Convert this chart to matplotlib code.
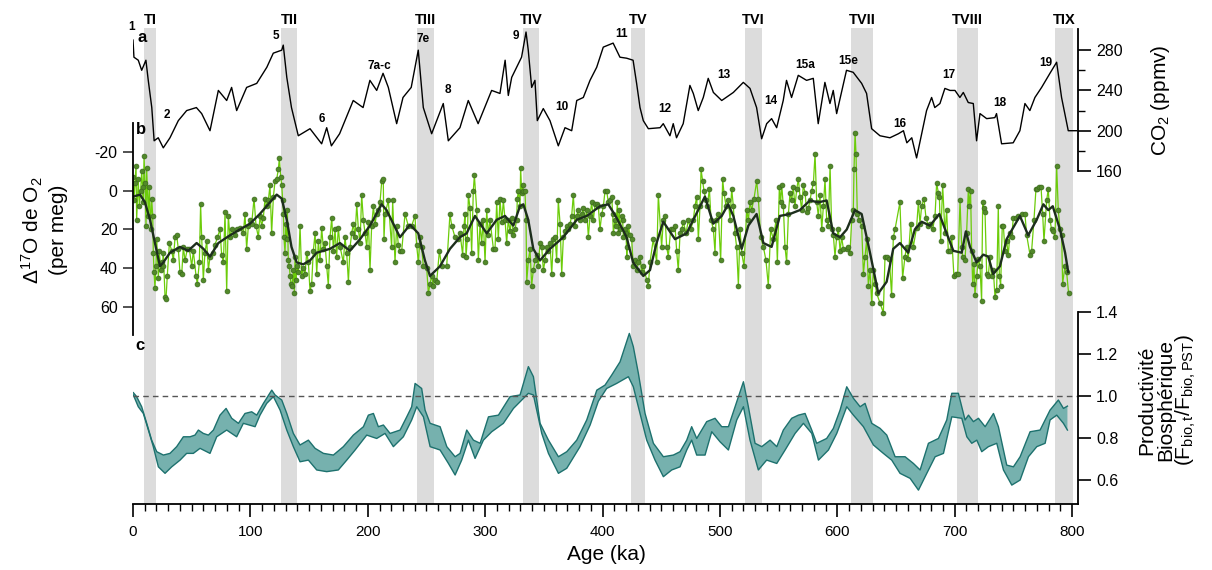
import numpy as np
import matplotlib
matplotlib.use('Agg')
import matplotlib.pyplot as plt

plt.rcParams['font.family'] = ['Liberation Sans', 'DejaVu Sans']
plt.rcParams['mathtext.fontset'] = 'custom'
plt.rcParams['mathtext.rm'] = 'Liberation Sans'
plt.rcParams['mathtext.it'] = 'Liberation Sans:italic'
plt.rcParams['mathtext.bf'] = 'Liberation Sans:bold'
plt.rcParams['axes.unicode_minus'] = False

# ── Terminaisons glaciaires (bandes grises) ──────────────────────────────────
TERM_LABELS = ['TI', 'TII', 'TIII', 'TIV', 'TV', 'TVI', 'TVII', 'TVIII', 'TIX']
TERM_START = [9, 126, 242, 332, 424, 521, 612, 702, 785]
TERM_END = [20, 140, 256, 346, 436, 536, 630, 720, 801]

# ── a : CO2 (ppmv) ───────────────────────────────────────────────────────────
co2_age = [0, 0.8, 4.5, 7.4, 11, 13, 16, 18, 21.5, 25.8,
           31.5, 38.6, 45.7, 54, 58.5, 65.6, 72.7, 79.8, 84, 88.3,
           96.8, 105.4, 114, 119.5, 126.7, 128, 131, 135, 140.8, 150.8,
           160.7, 165, 169, 176, 187.6, 196, 201.8, 207.6, 213, 217.5,
           224.6, 230, 237, 243, 247.3, 254.4, 264.3, 268.6, 278.5, 285.6,
           294, 305.5, 312.6, 317, 319.7, 322.6, 331, 334.8, 336.7, 339.6,
           342.4, 344.4, 349.5, 355.2, 362.3, 368, 373.7, 378, 383.6, 389.3,
           395, 400.6, 409, 414.8, 420.5, 426, 429, 431.9, 434.7, 439,
           449, 451.7, 457.4, 460.2, 463, 468.7, 474.4, 477.3, 481.5, 485.8,
           490, 494.4, 501.5, 511.4, 519.9, 525.6, 531.2, 535.5, 539.8, 544,
           548.3, 553.9, 556.7, 561, 566.7, 573.8, 579.5, 583.7, 589.4, 593.7,
           596.5, 599.4, 607.8, 613.5, 620.7, 624.9, 629.2, 636.3, 644.8, 652,
           656.3, 659.2, 663.4, 667.5, 671.8, 676, 680.3, 683, 687.4, 691.6,
           696, 700.2, 704.4, 707.3, 711.5, 715.8, 718.6, 721.5, 727.2, 734.2,
           735.6, 739.9, 749.8, 755.5, 759.8, 764, 768.3, 774, 781.1, 786.8,
           791, 796.7, 803.8]
co2_ppm = [290, 273, 270, 260, 270, 250, 223, 190, 193, 183,
           193, 210, 220, 223, 217, 200, 240, 230, 243, 220,
           243, 247, 263, 277, 280, 285, 253, 223, 195, 202,
           187, 203, 185, 197, 230, 223, 250, 240, 257, 243,
           207, 233, 243, 280, 223, 197, 227, 190, 203, 230,
           207, 240, 237, 270, 235, 253, 273, 298, 280, 243,
           250, 210, 222, 210, 185, 203, 200, 230, 233, 250,
           263, 283, 287, 273, 272, 270, 247, 223, 210, 202,
           203, 207, 195, 207, 193, 207, 245, 237, 220, 233,
           252, 238, 230, 238, 248, 242, 223, 192, 207, 212,
           203, 230, 250, 233, 255, 250, 252, 207, 248, 227,
           240, 217, 260, 258, 247, 237, 202, 195, 193, 197,
           200, 188, 193, 173, 197, 220, 233, 223, 227, 242,
           240, 240, 233, 238, 228, 227, 190, 217, 212, 213,
           217, 187, 188, 200, 227, 220, 233, 243, 257, 268,
           233, 200, 200]

# stades isotopiques marins (étiquettes sur la courbe CO2)
mis_labels = ['1', '2', '5', '6', '7a-c', '7e', '8', '9', '10', '11', '12',
              '13', '14', '15a', '15e', '16', '17', '18', '19']
mis_age = [-1, 29, 122, 161, 210, 247, 268, 326, 365, 416, 453,
           503, 543, 573, 609, 653, 695, 738, 778]
mis_co2 = [303, 216, 294, 212, 264, 291, 240, 294, 224, 296, 222,
           255, 230, 265, 269, 207, 255, 228, 267]

# ── b : Δ17O de O2 (per meg) ─────────────────────────────────────────────────
d17_age = [0.2, 0.8, 1.7, 2.6, 3.1, 4.5, 5.4, 6.5, 7.4, 8.2, 8.8, 9.4, 10.2, 11.1,
           11.6, 13.1, 13.9, 15.0, 15.9, 16.8, 17.3, 17.9, 18.7, 19.6, 20.2, 21.6,
           22.4, 23.6, 24.4, 25.3, 25.8, 27.3, 28.1, 29.2, 31.0, 33.0, 34.4, 35.8,
           37.2, 38.6, 40.0, 41.5, 42.9, 44.3, 46.3, 48.0, 50.0, 51.4, 53.7, 54.8,
           56.5, 57.6, 58.5, 59.9, 61.3, 62.8, 64.2, 65.6, 67.9, 69.9, 71.9, 74.1,
           75.5, 77.0, 78.4, 79.8, 81.2, 82.6, 84.1, 86.9, 88.3, 91.2, 94.0, 95.4,
           96.8, 98.3, 99.7, 101.1, 103.1, 104.8, 106.8, 108.2, 109.6, 111.0, 112.5,
           113.9, 115.3, 116.7, 118.1, 119.6, 121.0, 122.4, 123.8, 124.7, 125.8,
           126.7, 127.5, 128.1, 128.6, 129.5, 130.3, 130.9, 131.5, 132.3, 133.2,
           133.8, 134.6, 135.5, 136.6, 137.5, 138.0, 138.9, 139.4, 140.9, 142.3,
           143.7, 145.1, 146.5, 148.0, 149.4, 150.8, 152.2, 153.6, 155.1, 156.5,
           157.9, 159.3, 160.7, 162.2, 163.6, 165.0, 166.4, 167.8, 169.3, 170.7,
           172.1, 173.5, 174.9, 176.4, 179.2, 180.6, 182.0, 183.5, 184.9, 186.3,
           187.7, 189.1, 190.6, 192.0, 193.4, 194.8, 196.2, 197.7, 199.1, 200.5,
           201.9, 203.3, 204.8, 206.2, 207.6, 209.0, 210.4, 211.9,
           213.2, 213.8, 214.7, 217.5, 220.3, 221.2, 223.2, 224.6, 226.0, 227.4,
           228.9, 231.7, 234.5, 237.4, 240.2, 241.6, 243.1, 244.5, 245.9, 247.3,
           250.2, 251.6, 253.0, 254.4, 255.8, 257.3, 258.7, 261.0, 262.9, 267.2,
           270.0, 271.5, 274.3, 277.1, 278.6, 280.8, 282.0, 282.8, 283.7, 284.8,
           285.7, 287.1, 288.5, 289.9, 290.8, 292.8, 294.2, 295.6, 297.0, 298.4,
           299.9, 301.3, 302.7, 304.1, 307.0, 308.4, 309.8, 311.2, 312.6, 314.1,
           315.5, 316.9, 318.3, 319.7, 321.2, 322.6, 324.0, 325.4, 326.8, 327.4,
           328.3, 329.7, 330.2, 331.1, 332.0, 332.5, 333.9, 334.8, 335.4, 336.8,
           338.2, 339.6, 341.0, 342.5, 343.9, 345.3, 346.7, 348.1, 349.6, 351.0,
           352.4, 353.8, 355.2, 356.7, 358.1, 359.5, 360.9, 362.3, 363.8, 365.2,
           366.6, 368.0, 369.4, 370.9, 372.3, 373.7, 375.1, 376.5, 378.0, 379.4,
           380.8, 382.2, 383.6, 385.1, 386.5, 387.9, 389.3, 390.7, 392.2, 393.6,
           395.0, 396.4, 397.8, 399.3, 400.7, 402.1, 403.5, 404.9, 406.4, 407.8,
           408.6, 409.2, 410.6, 411.5, 412.6, 413.5, 414.3, 414.9, 416.3, 417.1,
           417.7, 419.1, 420.0, 420.6, 421.1, 422.0, 423.4, 424.8, 426.2, 427.7,
           429.1,
           430.5, 431.9, 433.3, 434.7, 437.6, 439.0, 440.4, 443.2, 446.1, 447.5,
           450.3, 451.8, 453.2, 454.6, 456.0, 458.0, 459.7, 461.7, 463.1, 464.5,
           466.0, 467.4, 468.8, 471.1, 473.1, 475.1, 477.3, 478.7, 480.2, 481.6,
           483.0, 483.9, 485.3, 486.4, 488.1, 489.2, 491.0, 492.4, 494.4, 495.8,
           496.6, 498.6, 500.6, 502.3, 503.4, 505.2, 507.1, 508.6, 510.0, 511.4,
           512.8, 514.2, 515.7, 517.1, 518.5, 520.5, 522.8, 524.2, 525.6, 527.0,
           529.0, 531.3, 532.7, 534.7, 537.0, 539.2, 541.2, 543.2, 545.5, 547.8,
           548.9, 550.6, 551.7, 552.6, 554.0, 555.4, 556.8, 558.3, 559.7, 561.1,
           562.5, 563.9, 565.4, 566.8, 568.2, 569.6, 571.0, 572.5, 573.9, 575.3,
           576.7, 578.1, 579.6, 581.0, 582.4, 583.8, 585.2, 586.7, 588.1, 589.5,
           590.9, 592.3, 593.8, 595.2, 596.6, 598.0, 599.4, 600.9, 602.3, 603.7,
           605.1, 608.0, 609.4, 610.8, 612.2, 613.6, 614.2, 615.1, 615.9, 617.0,
           618.8, 620.7, 622.2, 623.6, 625.0, 626.4, 627.8, 629.3, 630.7, 632.1,
           633.5, 636.4, 639.2,
           640.6, 642.0, 644.3, 646.2, 647.7, 649.1, 653.3, 655.6, 657.6, 659.0,
           660.4, 662.4, 664.7, 667.5, 669.0, 670.4, 671.8, 673.8, 675.5, 677.5,
           678.9, 681.2, 683.2, 684.6, 686.0, 686.9, 688.0, 689.7, 691.7, 693.1,
           694.5, 696.0, 697.4, 699.3, 701.1, 702.5, 704.5, 705.9, 706.7, 708.7,
           710.1, 711.6, 712.4, 713.5, 714.4, 715.3, 716.4, 717.2, 718.7, 720.1,
           721.5, 722.9, 723.8, 724.9, 725.8, 727.2, 728.6, 730.0, 731.4, 732.9,
           734.3, 735.7, 737.1, 738.0, 739.1, 740.5, 741.4, 742.8, 744.2, 745.6,
           747.1, 748.5, 749.9, 752.2, 754.2, 757.0, 759.8, 761.3, 764.1, 765.5,
           767.5, 769.2, 770.3, 772.1, 773.5, 774.9, 776.0, 778.3, 779.7, 781.1,
           782.5, 784.0, 785.4, 786.8, 788.2, 789.7, 791.1, 791.9, 793.9, 795.3,
           797.0]
d17_val = [-7, 5, -4, -13, 15, -6, 8, 0, -10, -2, 6, -18, -4, 18,
           -12, 13, -2, 20, 4, 13, 32, 42, 50, 39, 25, 45,
           31, 41, 37, 39, 32, 55, 56, 44, 27, 31, 36, 24,
           23, 30, 42, 43, 29, 36, 30, 30, 39, 31, 44, 48,
           37, 7, 24, 46, 32, 26, 41, 34, 32, 28, 24, 20,
           33, 37, 11, 52, 13, 24, 20, 23, 20, 19, 22, 12,
           30, 18, 15, 17, 4, 18, 24, 13, 18, 14, 4,
           8, 5, -3, 22, 3, -5, -6, -11, -17, -7,
           -3, 5, 12, 24, 32, 17, 25, 10, 36, 39,
           44, 48, 49, 41, 53, 34, 46, 39, 42, 18,
           44, 40, 43, 32, 37, 52, 48, 31, 22, 43,
           26, 36, 19, 30, 27, 39, 49, 24, 14, 31,
           20, 34, 19, 29, 37, 24, 32, 47, 29, 22,
           17, 24, 7, 20, 27, 2, 15, 22, 29, 16,
           41, 18, 8, 17, 12, 10, 6, -5,
           -6, 25, 12, 5, 29, 5, 37, 18, 28, 31,
           31, 12, 18, 18, 13, 28, 37, 24, 29, 39,
           40, 53, 48, 44, 49, 46, 47, 31, 39, 39,
           12, 18, 24, 25, 22, 33, 18, 12, 34, 25,
           2, 9, 32, 0, -8, 10, 36, 17, 27, 15,
           37, 10, 23, 15, 30, 30, 6, 25, 4, 16,
           5, 15, 27, 15, 21, 14, 23, 20, 15, 4,
           0, 8, -12, 1, -3, 0, 0, 15, 47, 36,
           30, 49, 41, 36, 33, 39, 27, 29, 41, 36,
           29, 31, 27, 43, 25, 24, 36, 5, 17, 43,
           24, 21, 18, 20, 17, 13, 2, 18, 13, 10,
           15, 12, 9, 15, 10, 24, 13, 6, 15, 7,
           7, 8, 20, 12, 8, 0, 0, 6, 5, 3,
           12, 22, 15, 18, 6, 22, 10, 20, 13, 15,
           24, 20, 22, 34, 29, 18, 23, 25, 39, 36,
           41,
           37, 34, 42, 39, 46, 49, 37, 25, 37, 2,
           29, 15, 13, 29, 34, 20, 20, 18, 31, 41,
           22, 20, 16, 22, 15, 20, 15, 8, 3, 25,
           8, -11, -5, 0, 5, 8, -1, 15, 20, 32,
           15, 12, 36, -6, 1, 8, 5, 15, -1, 8,
           22, 29, 49, 20, 32, 39, 10, 15, 6, 10,
           4, -5, 4, 24, 29, 36, 49, 20, 25, 15,
           37, -2, 6, -3, 8, 29, 37, 12, 1, 5,
           -2, 8, -1, -6, 3, 10, -3, 1, 11, 9,
           5, 0, -4, -19, 6, 13, 2, 20, 8, -6,
           15, 18, -13, 20, 23, 34, 24, 20, 31, 24,
           30, 30, 29, 32, 15, 10, -11, -30, -19, 12,
           15, 18, 43, 34, 25, 49, 41, 58, 41, 48,
           53, 58, 63,
           34, 34, 35, 54, 24, 20, 6, 45, 34, 29,
           35, 17, 29, 19, 6, 17, 8, 4, 14, 18,
           17, 20, 13, -4, 1, 3, 26, -3, 22, 10,
           31, 31, 24, 44, 43, 43, 5, 29, 34, 36,
           22, -1, 8, 0, 31, 48, 38, 54, 44, 35,
           39, 57, 6, 9, 11, 43, 44, 34, 44, 41,
           55, 51, 8, 44, 49, 18, 18, 31, 26, 33,
           22, 24, 14, 14, 13, 12, 12, 23, 33, 31,
           15, -1, -1, -2, -2, 12, 26, 5, -1, 15,
           20, 21, 24, -13, 10, 20, 23, 48, 39, 42,
           53]

# courbe lissée
smooth_age = [0.3, 6, 10.2, 14.5, 18.7, 23, 25.8, 31.5, 40, 47, 54.2, 60, 65.6,
              72.7, 82.6, 91, 99.7, 108, 116.7, 122.4, 126.7, 131, 135, 139.4,
              145, 150.8, 156.5, 167.8, 176.3, 184.8, 193.4, 201.9, 211.8, 216,
              221.7, 227.4, 236, 243, 248.7, 253, 261.5, 270, 278.5, 284.2, 291.3,
              301.3, 309.8, 316.9, 324, 329.6, 332.5, 336.7, 341, 346.7, 355.2,
              366.5, 378, 386.5, 397.8, 404.9, 412, 420.5, 426, 434.7, 440.4, 446,
              451.7, 461.7, 471.6, 477.3, 487.2, 494.3, 501.5, 507, 511.4, 518.5,
              524.2, 531.2, 537, 544, 551, 559.6, 568, 576.7, 583.7, 590.9, 596.5,
              602.3, 608, 615, 620.7, 627.8, 634.9, 642, 647.6, 653.3, 660.4, 666,
              671.8, 678.9, 686.9, 693.1, 698.8, 705.9, 709.5, 713, 718.6, 724.3,
              728.5, 732.8, 738.5, 744.2, 755.5, 762.6, 769.8, 775.5, 779.7, 783.5,
              789.7, 794, 796.7]
smooth_val = [3, 2, 6, 15, 27, 39, 37, 32, 29, 31, 27, 30, 34,
              27, 23, 20, 17, 12, 6, 2, 4, 15, 29, 37,
              38, 36, 32, 30, 27, 31, 25, 18, 7, 10,
              17, 24, 17.5, 22, 36, 44, 39, 30, 24, 22, 13,
              22, 15, 13, 18, 8, 7, 15, 30, 36, 30,
              24, 15, 13, 8, 7, 14, 24, 37, 44, 41, 27,
              16, 25, 22, 15, 3, 17, 13, 7, 13, 30,
              18, 12, 27, 29, 13, 12, 10, 5, 6, 5, 22,
              24, 20, 10, 12, 32, 53, 47, 30, 27, 32, 20,
              16, 18, 12, 22, 31, 32, 21, 29, 37, 33,
              34, 43, 39, 25, 13, 23, 15, 7, 10, 8,
              20, 32, 42]

# ── c : productivité biosphérique (enveloppe haute / basse) ──────────────────
fbio_up_age = [0.3, 3.1, 7.4, 11.7, 15.9, 20.2, 25.9, 31.5, 37.2, 42.9, 48.6, 52.8,
               55.7, 59.9, 64.2, 68.5, 74.1, 79.3, 84.1, 89.8, 95.4, 101.1, 105.4,
               111.1, 118.2, 121.0, 126.7, 131.0, 136.6, 142.3, 149.4, 155.1, 162.2,
               170.7, 179.2, 187.7, 196.3, 200.5, 204.8, 209.0, 213.3, 219.0, 227.5,
               233.2, 237.4, 240.3, 245.9, 248.8, 253.1, 261.6, 267.3, 274.4, 278.6,
               284.3, 290.0, 295.7, 302.8, 311.3, 321.2, 329.7, 336.8, 341.1, 346.8,
               353.9, 362.4, 369.5, 378.0, 386.5, 395.1, 402.1, 407.8, 414.9, 419.1,
               422.8, 426.2, 430.5, 436.2, 443.3, 451.8, 460.3, 466.0, 471.7, 475.9,
               480.2, 488.7, 495.8, 501.5, 507.2, 512.9, 520.0, 524.2, 529.9, 535.6,
               542.7, 548.4, 554.0, 561.1, 566.8, 572.5, 578.2, 582.4, 590.9, 596.6,
               602.3, 608.0, 613.7, 619.4, 623.6, 629.3, 636.4, 642.1, 649.2, 657.7,
               664.8, 670.5, 677.6, 686.1, 693.2, 697.5, 703.1, 708.8, 711.7, 715.9,
               720.2, 725.9, 733.0, 737.2, 744.3, 750.0, 755.7, 764.2, 772.7, 781.2,
               788.3, 792.6, 796.0]
fbio_up = [1.016, 0.997, 0.949, 0.870, 0.790, 0.735, 0.719, 0.727, 0.759, 0.806, 0.806, 0.814,
           0.838, 0.822, 0.814, 0.838, 0.909, 0.941, 0.894, 0.870, 0.917, 0.925, 0.909,
           0.965, 1.028, 1.005, 0.981, 0.917, 0.822, 0.767, 0.790, 0.751, 0.727,
           0.719, 0.759, 0.814, 0.854, 0.909, 0.917, 0.854, 0.862, 0.822, 0.838,
           0.901, 0.949, 1.060, 1.036, 0.933, 0.870, 0.854, 0.759, 0.711, 0.727,
           0.838, 0.790, 0.775, 0.901, 0.909, 0.997, 1.005, 1.140, 1.092, 0.870,
           0.790, 0.711, 0.735, 0.790, 0.886, 1.028, 1.052, 1.100, 1.163, 1.235,
           1.298, 1.235, 1.108, 0.917, 0.775, 0.711, 0.719, 0.735, 0.790, 0.854,
           0.798, 0.878, 0.894, 0.854, 0.854, 0.949, 1.068, 0.949, 0.775, 0.759,
           0.790, 0.759, 0.838, 0.894, 0.909, 0.917, 0.838, 0.775, 0.798, 0.846,
           0.933, 1.044, 0.989, 0.949, 0.965, 0.870, 0.846, 0.814, 0.711, 0.711,
           0.679, 0.648, 0.775, 0.798, 0.886, 1.013, 1.013, 0.886, 0.909, 0.878,
           0.894, 0.854, 0.917, 0.854, 0.671, 0.663, 0.711, 0.830, 0.838, 0.933,
           0.981, 0.941, 0.952]
fbio_lo_age = [0.3, 4.5, 8.8, 13.1, 17.3, 21.6, 27.3, 33.0, 40.1, 45.7, 51.4, 57.1,
               65.6, 71.3, 79.8, 88.3, 94.0, 104.0, 108.2, 113.9, 119.6, 125.3, 131.0,
               136.6, 142.3, 149.4, 156.5, 165.0, 174.9, 182.1, 189.2, 199.1, 207.6,
               214.7, 221.8, 230.3, 237.4, 241.7, 247.4, 253.1, 261.6, 268.7, 274.4,
               280.0, 285.7, 291.4, 298.5, 305.6, 315.5, 324.1, 331.2, 336.8, 341.1,
               348.2, 353.9, 362.4, 369.5, 380.8, 389.4, 396.4, 403.5, 412.0, 422.0,
               426.2, 431.9, 437.6, 444.7, 451.8, 458.9, 466.0, 471.7, 475.9, 480.2,
               487.3, 493.0, 500.1, 507.2, 514.3, 520.0, 525.6, 532.7, 539.8, 548.4,
               555.5, 564.0, 571.1, 578.2, 583.9, 592.4, 599.5, 608.0, 613.7, 622.2,
               630.7, 639.2, 646.3, 653.4, 662.0, 669.1, 676.2, 683.3, 690.4, 697.5,
               706.0, 710.3, 714.5, 718.8, 723.0, 728.7, 735.8, 741.5, 748.6, 755.7,
               762.8, 769.9, 777.0, 781.2, 786.9, 792.6, 796.0]
fbio_lo = [1.005, 0.949, 0.917, 0.838, 0.759, 0.663, 0.632, 0.663, 0.695, 0.727, 0.727, 0.751,
           0.727, 0.806, 0.838, 0.806, 0.870, 0.854, 0.909, 0.965, 0.997, 0.933, 0.838,
           0.759, 0.687, 0.695, 0.648, 0.640, 0.648, 0.695, 0.743, 0.814, 0.798,
           0.822, 0.759, 0.806, 0.886, 0.949, 0.901, 0.759, 0.743, 0.679, 0.624,
           0.695, 0.790, 0.703, 0.790, 0.830, 0.870, 0.941, 0.981, 1.013, 1.005,
           0.822, 0.727, 0.632, 0.656, 0.759, 0.862, 0.975, 1.036, 1.060, 1.092,
           1.044, 0.917, 0.790, 0.695, 0.616, 0.648, 0.663, 0.743, 0.790, 0.719,
           0.719, 0.830, 0.782, 0.743, 0.886, 0.949, 0.790, 0.648, 0.695, 0.679,
           0.743, 0.822, 0.870, 0.822, 0.695, 0.743, 0.822, 0.949, 0.909, 0.854,
           0.767, 0.727, 0.695, 0.632, 0.608, 0.552, 0.632, 0.711, 0.727, 0.901,
           0.894, 0.806, 0.775, 0.790, 0.735, 0.759, 0.775, 0.648, 0.576, 0.600,
           0.711, 0.759, 0.775, 0.886, 0.909, 0.870, 0.838]

# ── Mise en page (pixels de l'image 1212 x 570) ──────────────────────────────
W, H = 1212, 570
X0, X1 = 133, 1078
XLIM = (0, 805)


def box(top, bottom):
    return [X0 / W, (H - bottom) / H, (X1 - X0) / W, (bottom - top) / H]


fig = plt.figure(figsize=(12.12, 5.7), dpi=100)

# fond : bandes des terminaisons
ax_bg = fig.add_axes(box(28, 504))
ax_bg.set_xlim(XLIM)
ax_bg.set_ylim(0, 1)
ax_bg.axis('off')
for lab, s, e in zip(TERM_LABELS, TERM_START, TERM_END):
    ax_bg.axvspan(s, e, color='#dcdcdc', lw=0)
    ax_bg.text((s + e) / 2, 1.017, lab, ha='center', va='center',
               fontsize=10.5, fontweight='bold')

tick_kw = dict(width=1.2, direction='out')

# ── panneau c ────────────────────────────────────────────────────────────────
ax_c = fig.add_axes(box(312, 504))
ax_c.patch.set_alpha(0)
ax_c.set_xlim(XLIM)
ax_c.set_ylim(0.486, 1.4)
teal_fill, teal_edge = '#76b1ae', '#1d716e'
ax_c.fill(np.concatenate([fbio_up_age, fbio_lo_age[::-1]]),
          np.concatenate([fbio_up, fbio_lo[::-1]]),
          color=teal_fill, lw=0)
ax_c.plot(fbio_up_age, fbio_up, color=teal_edge, lw=1.0)
ax_c.plot(fbio_lo_age, fbio_lo, color=teal_edge, lw=1.0)
ax_c.axhline(1.0, ls=(0, (4, 3)), color='#555555', lw=1.0)
for sp in ['left', 'top']:
    ax_c.spines[sp].set_visible(False)
for sp in ['right', 'bottom']:
    ax_c.spines[sp].set_linewidth(1.3)
ax_c.yaxis.tick_right()
ax_c.set_yticks([0.6, 0.8, 1.0, 1.2, 1.4])
ax_c.set_yticklabels(['0.6', '0.8', '1.0', '1.2', '1.4'])
ax_c.tick_params(axis='y', length=9, pad=4, labelsize=11.5, **tick_kw)
ax_c.set_xticks(np.arange(0, 801, 100))
ax_c.set_xticks(np.arange(0, 801, 10), minor=True)
ax_c.tick_params(axis='x', which='major', length=9, pad=6, labelsize=11, **tick_kw)
ax_c.tick_params(axis='x', which='minor', length=5, width=1.0, direction='out')

# ── panneau b ────────────────────────────────────────────────────────────────
ax_b = fig.add_axes(box(123, 335))
ax_b.patch.set_alpha(0)
ax_b.set_xlim(XLIM)
ax_b.set_ylim(74.5, -35)
ax_b.plot(d17_age, d17_val, '-o', color='#6ccc0a', lw=0.9, ms=3.5,
          mfc='#52892a', mec='#3a6a1a', mew=0.5)
ax_b.plot(smooth_age, smooth_val, color='#1d2e1d', lw=1.7)
for sp in ['right', 'top', 'bottom']:
    ax_b.spines[sp].set_visible(False)
ax_b.spines['left'].set_linewidth(1.3)
ax_b.set_xticks([])
ax_b.set_yticks([-20, 0, 20, 40, 60])
ax_b.tick_params(axis='y', length=7, pad=4, color='#333333', labelsize=11.5, **tick_kw)

# ── panneau a ────────────────────────────────────────────────────────────────
ax_a = fig.add_axes(box(29, 171))
ax_a.patch.set_alpha(0)
ax_a.set_xlim(XLIM)
ax_a.set_ylim(160, 301)
ax_a.plot(co2_age, co2_ppm, color='black', lw=1.0)
for sp in ['left', 'top', 'bottom']:
    ax_a.spines[sp].set_visible(False)
ax_a.spines['right'].set_linewidth(1.3)
ax_a.set_xticks([])
ax_a.yaxis.tick_right()
ax_a.set_yticks([160, 200, 240, 280])
ax_a.set_yticks([180, 220, 260], minor=True)
ax_a.tick_params(axis='y', which='major', length=9, pad=4, labelsize=11.5, **tick_kw)
ax_a.tick_params(axis='y', which='minor', length=5, width=1.0, direction='out')
for lab, a, c in zip(mis_labels, mis_age, mis_co2):
    ax_a.text(a, c, lab, ha='center', va='center', fontsize=8.5, fontweight='bold')

# ── textes ───────────────────────────────────────────────────────────────────
fig.text(142 / W, 1 - 38 / H, 'a', fontsize=12, fontweight='bold', ha='center', va='center')
fig.text(141 / W, 1 - 129 / H, 'b', fontsize=12, fontweight='bold', ha='center', va='center')
fig.text(140 / W, 1 - 345 / H, 'c', fontsize=12, fontweight='bold', ha='center', va='center')

fig.text(44 / W, 1 - 230 / H, 'Δ$^{17}$O de O$_2$\n(per meg)', rotation=90,
         ha='center', va='center', multialignment='center', fontsize=15, linespacing=1.3)
fig.text(1160 / W, 1 - 100 / H, 'CO$_2$ (ppmv)', rotation=90,
         ha='center', va='center', fontsize=15)
fig.text(1168 / W, 1 - 400 / H,
         'Productivité\nBiosphérique\n(F$_{\\mathrm{bio,t}}$/F$_{\\mathrm{bio,PST}}$)',
         rotation=90, ha='center', va='center', multialignment='center',
         fontsize=15, linespacing=0.95)
fig.text(606 / W, 1 - 555 / H, 'Age (ka)', ha='center', va='center', fontsize=15)

fig.savefig('out.png', dpi=100)
